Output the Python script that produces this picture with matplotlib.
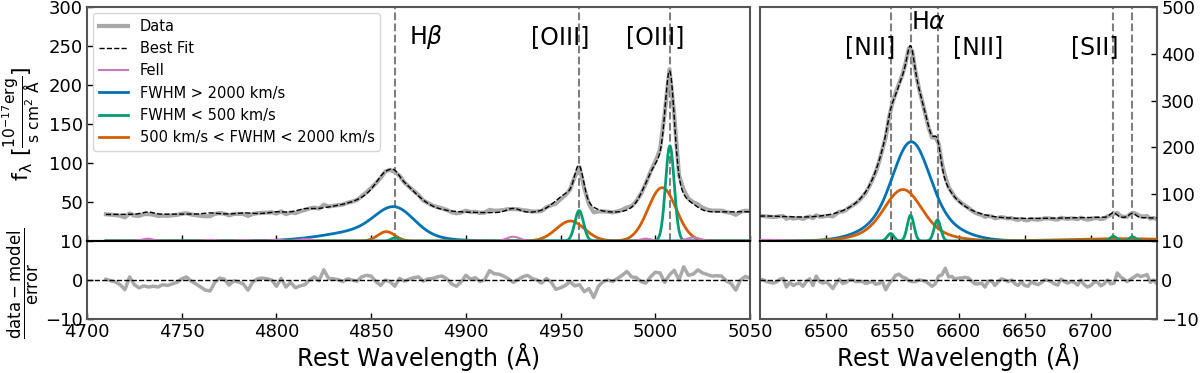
import numpy as np
import matplotlib
matplotlib.use("Agg")
import matplotlib.pyplot as plt

# ---------------- values ----------------
# Left window (H-beta / [OIII]) : data sampled every 2.5 A from 4710 to 5050
left_start, left_stop, step = 4710.0, 5050.0, 2.5
resid_left = [
    0.2, -0.2, -0.5, -1.2, -2.5, 0.8, -1.2, -2.0, -1.5, -1.8,
    -1.6, -1.8, -1.2, -1.4, -1.0, -0.6, 0.3, 0.8, -0.3, -1.0,
    -1.8, -2.6, -2.8, -0.6, 0.5, 0.2, -1.3, -0.2, -0.5, -1.0,
    -2.6, -0.5, 0.3, 0.5, 0.3, 0.0, -1.6, 0.4, -1.8, -0.6,
    -2.0, -1.5, -1.2, 0.0, 0.8, -0.2, 2.6, 0.4, 0.3, 0.1,
    -0.4, 0.3, 0.0, -0.3, 0.8, 1.2, 1.0, -0.4, -1.4, 0.0,
    -0.4, -1.6, 0.4, -0.3, 0.2, 0.6, 0.8, -0.3,
    0.3, 0.4, 0.8, 1.0, 0.3, -1.0, -1.6, -0.5, 1.2, 0.2,
    0.6, -0.4, 0.1, 2.4, 1.6, 1.5, 1.0, 0.3, -0.6, 0.1,
    0.8, 1.2, 0.4, 0.0, -0.8, 0.4, -0.5, -2.4, -2.0, -1.4,
    -0.4, -1.5, -1.2, -3.0, -2.2, -4.5, -1.6, -0.4, 0.0, -0.4,
    0.4, 1.2, 2.2, 0.8, 0.6, -0.4, -0.8, 0.8, 2.0, 1.8,
    -0.6, 1.3, 2.5, 0.0, 3.4, 1.2, 1.5, 2.6, 1.8, 1.4,
    1.0, 1.1, 1.0, -0.2, -0.9, -2.6, 0.0, 0.9, 0.5,
]
err_left = 1.5
cont_left_wave = [4710.0, 5050.0]
cont_left_flux = [34.0, 37.5]
# (centre [A], peak flux, sigma [A])
broad_left = [(4862.5, 32.0, 10.0), (4850.0, 14.0, 22.0)]
inter_left = [(4858.0, 12.0, 4.5), (4955.2, 25.6, 7.5), (5003.6, 68.4, 7.4)]
narrow_left = [(4862.5, 4.0, 2.0), (4959.8, 39.0, 2.3), (5007.7, 122.0, 2.3)]
feii_left = [(4732.0, 3.0, 3.0), (4765.0, 1.5, 3.0), (4783.0, 1.2, 3.0),
             (4800.0, 1.5, 3.0), (4815.0, 2.5, 3.5), (4925.0, 5.5, 3.5),
             (4995.0, 3.0, 3.0), (5020.0, 4.5, 3.5)]
lines_left = [4862.5, 4959.6, 5007.7]
labels_left = [("H$\\beta$", 4879, 262), ("[OIII]", 4950, 262), ("[OIII]", 5000, 262)]

# Right window (H-alpha / [NII] / [SII]) : data sampled every 2.5 A from 6450 to 6750
right_start, right_stop = 6450.0, 6750.0
resid_right = [
    0.2, 0.0, -0.4, -0.6, -0.8, -0.5, 0.2, 0.4, -1.8, -0.6,
    -1.4, -1.0, -0.8, -1.6, -0.4, 0.3, -1.4, 1.0, -0.4, -0.8,
    -0.5, -1.2, -2.2, -0.8, 0.2, -0.9, -0.6, 0.0, 0.0, -0.4,
    -0.4, -0.4, -0.9, -0.6, -0.4, -1.1, -0.9, -0.4, -2.5, -1.0,
    0.0, 1.2, 1.5, 0.8, 0.5, -0.2, -0.4, -0.4, 0.0, -0.1,
    -0.3, -0.9, -1.6, -1.0, 1.0, 1.3, 3.0, 0.8, 0.9, 0.2,
    0.5, 0.5, 0.7, 0.5, -0.3, -1.0, -1.0, -0.8, -1.8, -0.3,
    -0.2, -1.4, -0.5, 0.3, 0.0, -0.4, 0.0, -0.9, -1.4, -0.4,
    -1.4, -1.6, -0.5, -0.9, -1.2, -0.7, 0.0, -0.1, -0.4, -1.0,
    -1.3, 0.2, -0.4, -0.8, -0.4, -0.6, -1.3, 0.0, -1.2, -1.8,
    -1.4, -0.6, -0.5, -1.5, -1.0, 0.0, -1.0, -0.8, 1.8, 0.8,
    0.2, -0.4, 0.2, 0.7, 1.3, 0.9, 1.1, 1.4, -0.6, 0.0, -1.0,
]
err_right = 2.5
cont_right_wave = [6450.0, 6750.0]
cont_right_flux = [51.0, 45.0]
broad_right = [(6564.3, 145.0, 13.0), (6564.3, 67.0, 26.0)]
inter_right = [(6558.0, 80.0, 13.0), (6558.0, 30.0, 25.0),
               (6716.0, 2.5, 40.0), (6731.0, 2.5, 40.0)]
narrow_right = [(6548.7, 16.0, 2.5), (6563.8, 55.0, 2.5), (6584.1, 45.0, 2.5),
                (6717.0, 10.0, 2.5), (6731.5, 9.0, 2.5)]
feii_right = [(6455.0, 2.5, 12.0)]
lines_right = [6549.0, 6563.8, 6584.6, 6716.5, 6730.8]
labels_right = [("H$\\alpha$", 6577, 468), ("[NII]", 6533, 415),
                ("[NII]", 6615, 415), ("[SII]", 6703, 415)]

# ---------------- styling ----------------
C_DATA = "#a9a9a9"
C_FEII = "#cc78bc"
C_BROAD = "#0173b2"
C_NARROW = "#029e73"
C_INTER = "#d55e00"
SPINE = "#555555"


def profile(w, comps):
    out = np.zeros_like(w)
    for c, a, s in comps:
        out += a * np.exp(-0.5 * ((w - c) / s) ** 2)
    return out


fig = plt.figure(figsize=(12, 3.73), dpi=100)
H = 373.0
W = 1200.0


def ax_rect(x0, x1, y0, y1):
    return [x0 / W, 1 - y1 / H, (x1 - x0) / W, (y1 - y0) / H]


panels = [
    dict(x0=87, x1=750, start=left_start, stop=left_stop, resid=resid_left, err=err_left,
         cw=cont_left_wave, cf=cont_left_flux, broad=broad_left, inter=inter_left,
         narrow=narrow_left, feii=feii_left, lines=lines_left, labels=labels_left,
         ymax=300, yticks=[50, 100, 150, 200, 250, 300], xticks=[4700, 4750, 4800, 4850, 4900, 4950, 5000, 5050],
         xlim=(4700, 5050), side="left"),
    dict(x0=760, x1=1157, start=right_start, stop=right_stop, resid=resid_right, err=err_right,
         cw=cont_right_wave, cf=cont_right_flux, broad=broad_right, inter=inter_right,
         narrow=narrow_right, feii=feii_right, lines=lines_right, labels=labels_right,
         ymax=500, yticks=[100, 200, 300, 400, 500], xticks=[6500, 6550, 6600, 6650, 6700],
         xlim=(6450, 6750), side="right"),
]

for i, p in enumerate(panels):
    ax = fig.add_axes(ax_rect(p["x0"], p["x1"], 7, 241))
    axr = fig.add_axes(ax_rect(p["x0"], p["x1"], 241, 319), sharex=ax)

    fine = np.arange(p["start"], p["stop"] + 0.01, 0.25)
    wd = np.arange(p["start"], p["stop"] + 0.01, step)

    def model(w):
        return (np.interp(w, p["cw"], p["cf"]) + profile(w, p["broad"]) +
                profile(w, p["inter"]) + profile(w, p["narrow"]) + profile(w, p["feii"]))

    resid = np.array(p["resid"])
    data = model(wd) + resid * p["err"]

    ax.plot(wd, data, color=C_DATA, lw=3, label="Data", zorder=2)
    ax.plot(fine, model(fine), color="black", ls="--", lw=1.0, label="Best Fit", zorder=3)
    ax.plot(fine, profile(fine, p["feii"]), color=C_FEII, lw=1.5, label="FeII", zorder=6)
    ax.plot(fine, profile(fine, p["broad"]), color=C_BROAD, lw=2, label="FWHM > 2000 km/s", zorder=4)
    ax.plot(fine, profile(fine, p["narrow"]), color=C_NARROW, lw=2, label="FWHM < 500 km/s", zorder=5)
    ax.plot(fine, profile(fine, p["inter"]), color=C_INTER, lw=2,
            label="500 km/s < FWHM < 2000 km/s", zorder=4)

    for lw_ in p["lines"]:
        ax.axvline(lw_, color="gray", ls="--", lw=1.5, zorder=1)
    for txt, xx, yy in p["labels"]:
        ax.text(xx, yy, txt, fontsize=17, ha="center", va="center")

    ax.set_xlim(*p["xlim"])
    ax.set_ylim(0, p["ymax"])
    ax.set_yticks(p["yticks"])
    ax.tick_params(axis="x", labelbottom=False)

    axr.plot(wd, resid, color=C_DATA, lw=2.5, zorder=2)
    axr.axhline(0, color="black", ls="--", lw=1.0, zorder=3)
    axr.set_ylim(-10, 10)
    axr.set_yticks([-10, 0, 10])
    axr.set_xticks(p["xticks"])
    axr.set_xlim(*p["xlim"])
    axr.set_xlabel(r"$\mathrm{Rest\ Wavelength\ (\AA)}$", fontsize=17, labelpad=0)

    for a in (ax, axr):
        a.tick_params(direction="in", labelsize=13, length=4, width=1, colors="black",
                      pad=3)
        for s in a.spines.values():
            s.set_color(SPINE)
            s.set_linewidth(1.5)
        if p["side"] == "right":
            a.yaxis.tick_right()
    ax.spines["bottom"].set_color("black")
    axr.spines["top"].set_color("black")

    if i == 0:
        ax.set_ylabel(r"$\mathrm{f_{\lambda}\ [\frac{10^{-17}erg}{s\ cm^{2}\ \AA}]}$", fontsize=16)
        ax.yaxis.set_label_coords(-0.068, 0.5)
        axr.set_ylabel(r"$\frac{\mathrm{data-model}}{\mathrm{error}}$", fontsize=17)
        axr.yaxis.set_label_coords(-0.07, 0.45)
        ax.legend(loc="upper left", fontsize=10.5, borderaxespad=0.4)

fig.savefig("out.png", dpi=100)
